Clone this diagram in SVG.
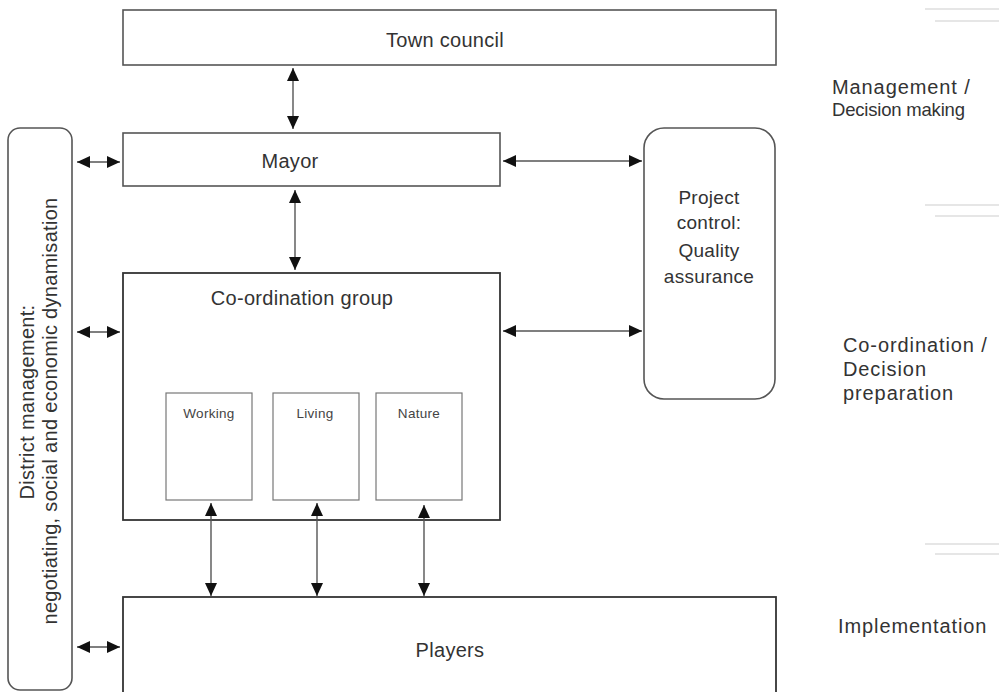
<svg xmlns="http://www.w3.org/2000/svg" width="999" height="692" viewBox="0 0 999 692">
<defs>
<marker id="ah" markerUnits="userSpaceOnUse" markerWidth="14" markerHeight="12" refX="13" refY="6" orient="auto-start-reverse">
<path d="M0,0 L13,6 L0,12 Z" fill="#111"/>
</marker>
<style>
.box{fill:#fff;stroke:#555;stroke-width:1.6}
.dark{stroke:#333;stroke-width:1.8}
.inner{fill:#fff;stroke:#777;stroke-width:1.2}
.t{font-family:"Liberation Sans",Arial,sans-serif;font-size:20px;letter-spacing:0.3px;fill:#333;text-anchor:middle}
.p{font-family:"Liberation Sans",Arial,sans-serif;font-size:19px;letter-spacing:0.3px;fill:#333;text-anchor:middle}
.s{font-family:"Liberation Sans",Arial,sans-serif;font-size:13.5px;letter-spacing:0.3px;fill:#444;text-anchor:middle}
.r{font-family:"Liberation Sans",Arial,sans-serif;font-size:20px;letter-spacing:0.9px;fill:#333}
.c{stroke:#555;stroke-width:1.4;fill:none;marker-start:url(#ah);marker-end:url(#ah)}
.faint{stroke:#e6e6e6;stroke-width:2}
</style>
</defs>
<rect width="999" height="692" fill="#fff"/>
<g id="separators">
<line class="faint" x1="925" y1="9" x2="999" y2="9"/>
<line class="faint" x1="935" y1="21" x2="999" y2="21"/>
<line class="faint" x1="925" y1="205" x2="999" y2="205"/>
<line class="faint" x1="935" y1="216" x2="999" y2="216"/>
<line class="faint" x1="925" y1="544" x2="999" y2="544"/>
<line class="faint" x1="935" y1="554" x2="999" y2="554"/>
</g>
<g id="town-council">
<rect class="box" x="123" y="10" width="653" height="55"/>
<text class="t" x="445" y="47">Town council</text>
</g>
<g id="mayor">
<rect class="box" x="123" y="133" width="377" height="53"/>
<text class="t" x="290" y="168">Mayor</text>
</g>
<g id="district-management">
<rect class="box" x="8" y="128" width="64" height="562" rx="12"/>
<text class="t" transform="translate(34,402) rotate(-90)">District management:</text>
<text class="t" transform="translate(57,411) rotate(-90)">negotiating, social and economic dynamisation</text>
</g>
<g id="project-control">
<rect class="box" x="644" y="128" width="131" height="271" rx="20"/>
<text class="p" x="709" y="204">Project</text>
<text class="p" x="709" y="229">control:</text>
<text class="p" x="709" y="257">Quality</text>
<text class="p" x="709" y="283">assurance</text>
</g>
<g id="coordination-group">
<rect class="box dark" x="123" y="273" width="377" height="247"/>
<text class="t" x="302" y="305">Co-ordination group</text>
</g>
<g id="working">
<rect class="inner" x="166" y="393" width="86" height="107"/>
<text class="s" x="209" y="418">Working</text>
</g>
<g id="living">
<rect class="inner" x="273" y="393" width="86" height="107"/>
<text class="s" x="315" y="418">Living</text>
</g>
<g id="nature">
<rect class="inner" x="376" y="393" width="86" height="107"/>
<text class="s" x="419" y="418">Nature</text>
</g>
<g id="players">
<rect class="box dark" x="123" y="597" width="653" height="110"/>
<text class="t" x="450" y="657">Players</text>
</g>
<g id="level-labels">
<text class="r" x="832" y="94">Management /</text>
<text class="r" x="832" y="116" style="font-size:18.5px;letter-spacing:-0.2px">Decision making</text>
<text class="r" x="843" y="352">Co-ordination /</text>
<text class="r" x="843" y="376">Decision</text>
<text class="r" x="843" y="400">preparation</text>
<text class="r" x="838" y="633">Implementation</text>
</g>
<g id="connectors">
<line class="c" x1="293" y1="68" x2="293" y2="129"/>
<line class="c" x1="295" y1="190" x2="295" y2="270"/>
<line class="c" x1="77" y1="162" x2="120" y2="162"/>
<line class="c" x1="77" y1="332" x2="120" y2="332"/>
<line class="c" x1="77" y1="647" x2="120" y2="647"/>
<line class="c" x1="503" y1="161" x2="642" y2="161"/>
<line class="c" x1="503" y1="331" x2="642" y2="331"/>
<line class="c" x1="211" y1="503" x2="211" y2="596"/>
<line class="c" x1="317" y1="503" x2="317" y2="596"/>
<line class="c" x1="424" y1="505" x2="424" y2="596"/>
</g>
</svg>
